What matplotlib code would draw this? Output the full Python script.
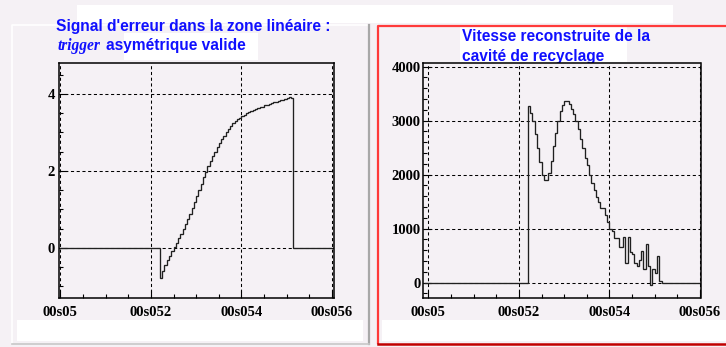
import numpy as np
import matplotlib
matplotlib.use("Agg")
import matplotlib.pyplot as plt
from matplotlib.patches import Rectangle
from matplotlib.ticker import FixedLocator, MultipleLocator

# ---- data -------------------------------------------------------------
bin_width = 0.005          # s
signal_start = 5.22        # s, first non-empty bin
time_min, time_max = 4.99, 5.61

# error signal in the linear zone (arbitrary units)
error_signal = [
    -0.78, -0.60, -0.45, -0.32, -0.20, -0.09, 0.02, 0.13, 0.25, 0.37,
    0.50, 0.63, 0.76, 0.89, 1.03, 1.18, 1.34, 1.51, 1.67, 1.83,
    1.98, 2.12, 2.25, 2.38, 2.50, 2.62, 2.72, 2.82, 2.91, 3.00,
    3.08, 3.16, 3.23, 3.29, 3.34, 3.38, 3.42, 3.46, 3.50, 3.53,
    3.56, 3.59, 3.61, 3.63, 3.65, 3.67, 3.70, 3.72, 3.74, 3.76,
    3.78, 3.80, 3.82, 3.84, 3.85, 3.86, 3.90, 3.93, 3.90,
]

# reconstructed velocity of the recycling cavity
cavity_speed = [
    3270, 3150, 2994, 2745, 2497, 2230, 2000, 1907, 1907, 2031,
    2248, 2528, 2776, 2994, 3180, 3286, 3366, 3366, 3304, 3211,
    3118, 2994, 2838, 2665, 2497, 2311, 2186, 2000, 1845, 1720,
    1584, 1503, 1379, 1379, 1255, 1130, 994, 960, 820, 820,
    670, 670, 840, 360, 840, 560, 540, 360, 300, 420,
    580, 250, 710, 300, -40, 250, 180, 490, 30,
]

xtick_values = [5.0, 5.2, 5.4, 5.6]
xtick_labels = ["00s05", "00s052", "00s054", "00s056"]
left_yticks = [0, 2, 4]
right_yticks = [0, 1000, 2000, 3000, 4000]

left_title_1 = "Signal d'erreur dans la zone linéaire :"
left_title_2a = "trigger"
left_title_2b = "asymétrique valide"
right_title_1 = "Vitesse reconstruite de la"
right_title_2 = "cavité de recyclage"


def padded_histogram(values):
    """Place the non-empty bins on the full time range, empty elsewhere."""
    n_before = int(round((signal_start - time_min) / bin_width))
    n_after = int(round((time_max - signal_start) / bin_width)) - len(values)
    counts = np.concatenate([np.zeros(n_before), np.asarray(values, float),
                             np.zeros(n_after)])
    edges = time_min + bin_width * np.arange(len(counts) + 1)
    return counts, edges


# ---- figure -----------------------------------------------------------
W, H = 726, 347
BG = "#f5f1f5"
BLUE = "#1010ff"
fig = plt.figure(figsize=(W / 100, H / 100), dpi=100, facecolor=BG)

# page-level decoration in pixel coordinates
bg = fig.add_axes([0, 0, 1, 1], zorder=0)
bg.set_xlim(0, W)
bg.set_ylim(H, 0)
bg.axis("off")


def rect(x0, y0, x1, y1, **kw):
    bg.add_patch(Rectangle((x0, y0), x1 - x0, y1 - y0, **kw))


rect(77, 5, 673, 23, facecolor="white", edgecolor="none")
# left pad (bevelled frame)
rect(12, 25, 369, 343, facecolor=BG, edgecolor="none")
bg.plot([12, 12, 368], [343, 25, 25], color="white", lw=1.2)
bg.plot([368.5, 368.5], [25, 344], color="#a8a8a8", lw=1.6)
bg.plot([12, 369], [343.5, 343.5], color="#c8c8c8", lw=1.2)
rect(17, 320, 363, 341, facecolor="white", edgecolor="none")
rect(124, 33, 258, 60, facecolor="white", edgecolor="none")
# right pad (selected, red frame)
rect(377, 25, 726, 344, facecolor=BG, edgecolor="none")
rect(382, 320, 726, 341, facecolor="white", edgecolor="none")
rect(460, 25, 627, 62, facecolor="white", edgecolor="none")
bg.plot([726, 378, 378], [25.5, 25.5, 343], color="#ff3a3a", lw=1.6)
bg.plot([378, 726], [343.5, 343.5], color="#c00000", lw=1.8)

title_font = dict(family="Liberation Sans", weight="bold", size=11.2, color=BLUE)
bg.text(56, 26, left_title_1, ha="left", va="center", **title_font)
bg.text(58, 45.5, left_title_2a, ha="left", va="center", family="Liberation Serif",
        style="italic", weight="bold", size=11.2, color=BLUE)
bg.text(106, 45, left_title_2b, ha="left", va="center", **title_font)
bg.text(462, 36, right_title_1, ha="left", va="center", **title_font)
bg.text(462, 56, right_title_2, ha="left", va="center", **title_font)


def make_axes(px_left, px_top, px_right, px_bottom):
    return fig.add_axes([px_left / W, 1 - px_bottom / H,
                         (px_right - px_left) / W, (px_bottom - px_top) / H],
                        zorder=2)


def style_axes(ax, yticks, yminor, ylabel_pad):
    ax.set_facecolor(BG)
    for side in ax.spines.values():
        side.set_linewidth(1.1)
        side.set_color("black")
    ax.xaxis.set_major_locator(FixedLocator(xtick_values))
    ax.set_xticklabels(xtick_labels)
    ax.xaxis.set_minor_locator(MultipleLocator(0.05))
    ax.yaxis.set_major_locator(FixedLocator(yticks))
    ax.yaxis.set_minor_locator(MultipleLocator(yminor))
    ax.tick_params(which="both", direction="in", top=False, right=False,
                   colors="black")
    ax.tick_params(axis="x", which="major", length=6, width=0.8, pad=6)
    ax.tick_params(axis="x", which="minor", length=3, width=0.8)
    ax.tick_params(axis="y", which="major", length=6, width=0.8, pad=ylabel_pad)
    ax.tick_params(axis="y", which="minor", length=3, width=0.8)
    for lab in ax.get_xticklabels() + ax.get_yticklabels():
        lab.set_family("Liberation Serif")
        lab.set_weight("bold")
        lab.set_size(10.5)
    ax.grid(True, which="major", color="black", lw=0.75, ls=(0, (3, 2.5)))
    ax.set_axisbelow(True)


# left: error signal
axL = make_axes(59, 63, 333.5, 298)
counts, edges = padded_histogram(error_signal)
axL.stairs(counts, edges, baseline=None, color="#202020", lw=0.95)
axL.set_xlim(4.997, 5.6035)
axL.set_ylim(-1.3, 4.8)
style_axes(axL, left_yticks, 0.5, 3)

# right: cavity velocity
axR = make_axes(423.3, 62.7, 700.5, 297.7)
counts, edges = padded_histogram(cavity_speed)
axR.stairs(counts, edges, baseline=None, color="#202020", lw=0.95)
axR.set_xlim(4.989, 5.601)
axR.set_ylim(-278, 4074)
style_axes(axR, right_yticks, 200, 2)

fig.savefig("out.png", dpi=100, facecolor=BG)
